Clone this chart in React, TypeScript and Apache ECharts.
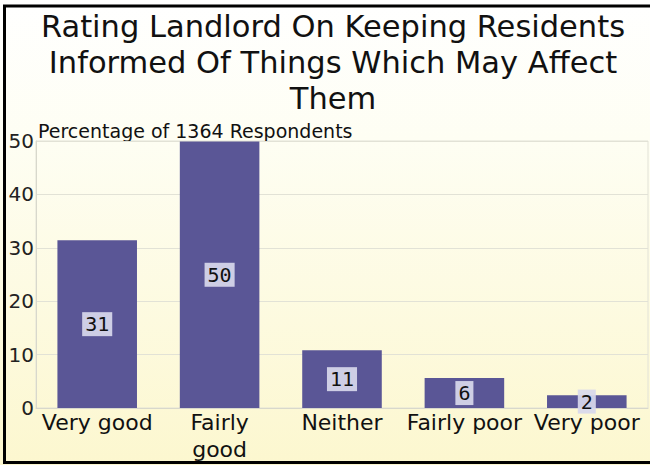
import React, { useEffect, useRef } from "react";
import * as echarts from "echarts";

const titleText = "Rating Landlord On Keeping Residents\nInformed Of Things Which May Affect\nThem";
const subtitleText = "Percentage of 1364 Respondents";
const categories = ["Very good", "Fairly good", "Neither", "Fairly poor", "Very poor"];
const tickLabels = ["Very good", "Fairly\ngood", "Neither", "Fairly poor", "Very poor"];
const values = [31.4, 49.9, 10.8, 5.6, 2.4];
const yTicks = { min: 0, max: 50, interval: 10 };

export default function App() {
  const ref = useRef<HTMLDivElement>(null);
  useEffect(() => {
    if (!ref.current) return;
    const chart = echarts.init(ref.current, undefined, { renderer: "svg" });
    chart.setOption({
      animation: false,
      backgroundColor: new echarts.graphic.LinearGradient(0, 0, 0, 1, [
        { offset: 0, color: "#ffffff" },
        { offset: 0.3, color: "#fefef3" },
        { offset: 1, color: "#fcf7cf" },
      ]),
      grid: {
        left: 36,
        right: 2,
        top: 141,
        bottom: 57,
        show: true,
        borderColor: "#e2e2d6",
        borderWidth: 1,
        backgroundColor: "transparent",
      },
      graphic: [
        {
          type: "text",
          x: 333,
          y: 8.5,
          style: {
            text: titleText,
            fontFamily: "DejaVu Sans",
            fontSize: 30.5,
            lineHeight: 36,
            fill: "#111",
            align: "center",
            verticalAlign: "top",
          },
        },
        {
          type: "text",
          x: 38,
          y: 130.5,
          style: {
            text: subtitleText,
            fontFamily: "DejaVu Sans",
            fontSize: 19,
            fill: "#111",
            align: "left",
            verticalAlign: "middle",
          },
        },
        {
          type: "rect",
          shape: { x: 4.5, y: 6, width: 700, height: 456.5 },
          style: { fill: "none", stroke: "#000", lineWidth: 3 },
          z: 100,
        },
      ],
      xAxis: {
        type: "category",
        data: categories,
        axisTick: { show: false },
        axisLine: { show: true, lineStyle: { color: "#d8d8cc" } },
        axisLabel: {
          fontFamily: "DejaVu Sans",
          fontSize: 22,
          lineHeight: 27,
          color: "#111",
          margin: 1,
          interval: 0,
          formatter: (_v: string, i: number) => tickLabels[i],
        },
      },
      yAxis: {
        type: "value",
        min: yTicks.min,
        max: yTicks.max,
        interval: yTicks.interval,
        axisLine: { show: true, lineStyle: { color: "#d8d8cc" } },
        axisTick: { show: false },
        splitLine: { lineStyle: { color: "#e2e2d6" } },
        axisLabel: {
          fontFamily: "DejaVu Sans",
          fontSize: 20,
          color: "#222",
          margin: 2,
        },
      },
      series: [
        {
          type: "bar",
          data: values,
          barWidth: "65%",
          itemStyle: { color: "#5a5696" },
          label: {
            show: true,
            position: "inside",
            formatter: (p: any) => String(Math.round(p.value)),
            fontFamily: "DejaVu Sans Mono",
            fontSize: 20,
            lineHeight: 20,
            color: "#111",
            backgroundColor: "rgba(216,216,236,0.92)",
            padding: [2, 3],
          },
        },
      ],
    });
    return () => chart.dispose();
  }, []);
  return (
    <div
      ref={ref}
      style={{ position: "fixed", left: 0, top: 0, width: 650, height: 465 }}
    />
  );
}
